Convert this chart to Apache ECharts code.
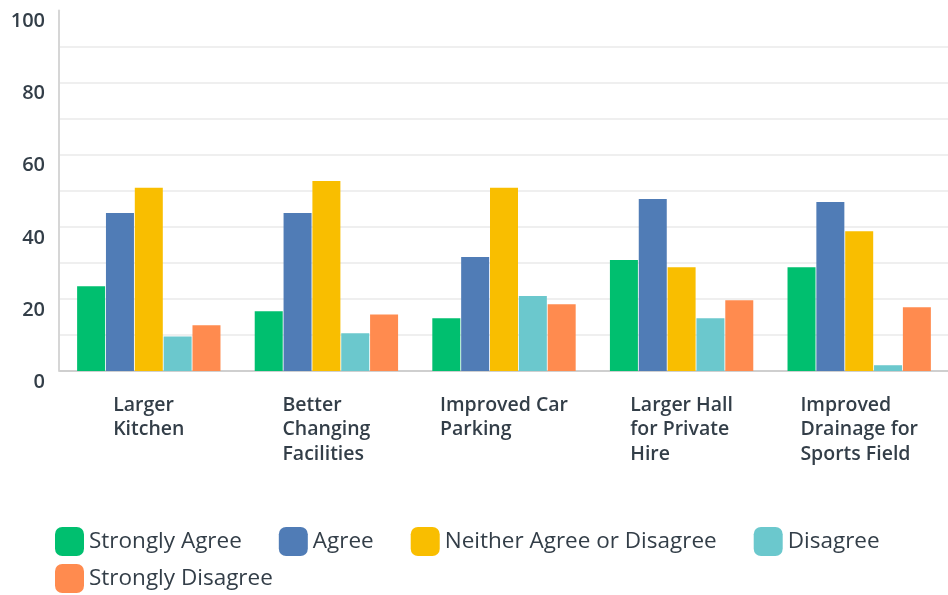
<!DOCTYPE html>
<html>
<head>
<meta charset="utf-8">
<script src="https://cdn.jsdelivr.net/npm/echarts@6/dist/echarts.min.js"></script>
<style>html,body{margin:0;padding:0;background:#fff}#c{width:948px;height:595px}</style>
</head>
<body>
<div id="c"></div>
<script>
var categories = ['Larger Kitchen', 'Better Changing Facilities', 'Improved Car Parking', 'Larger Hall for Private Hire', 'Improved Drainage for Sports Field'];
var categoryLines = [['Larger', 'Kitchen'], ['Better', 'Changing', 'Facilities'], ['Improved Car', 'Parking'], ['Larger Hall', 'for Private', 'Hire'], ['Improved', 'Drainage for', 'Sports Field']];
var seriesNames = ['Strongly Agree', 'Agree', 'Neither Agree or Disagree', 'Disagree', 'Strongly Disagree'];
var stronglyAgree = [23.5, 16.6, 14.6, 30.8, 28.8];
var agree = [43.8, 43.8, 31.6, 47.7, 46.9];
var neither = [50.8, 52.7, 50.8, 28.8, 38.8];
var disagree = [9.6, 10.5, 20.8, 14.6, 1.6];
var stronglyDisagree = [12.7, 15.7, 18.5, 19.6, 17.7];
var yTicks = [0, 20, 40, 60, 80, 100];

var colors = ['#00bf6f', '#507cb6', '#f9be00', '#6bc8cd', '#ff8b4f'];
var textColor = '#333e48';
var values = [stronglyAgree, agree, neither, disagree, stronglyDisagree];

var chart = echarts.init(document.getElementById('c'));
var legendText = { color: textColor, fontSize: 22.5, fontFamily: 'Open Sans', fontWeight: 500 };
chart.setOption({
  animation: false,
  color: colors,
  grid: { left: 60, width: 894, top: 10.5, bottom: 224, containLabel: false },
  legend: [{
    data: seriesNames.slice(0, 4), left: 55, top: 527, padding: 0, itemWidth: 29, itemHeight: 29, itemGap: 37,
    icon: 'roundRect', textStyle: legendText, selectedMode: false
  }, {
    data: seriesNames.slice(4), left: 55, top: 564, padding: 0, itemWidth: 29, itemHeight: 29, itemGap: 37,
    icon: 'roundRect', textStyle: legendText, selectedMode: false
  }],
  xAxis: {
    type: 'category',
    data: categories,
    axisLine: { lineStyle: { color: '#cfcfcf', width: 2 } },
    axisTick: { show: false },
    axisLabel: {
      margin: 22,
      interval: 0,
      align: 'center',
      formatter: function (v, i) {
        return categoryLines[i].map(function (l) { return '{a|' + l + '}'; }).join('\n');
      },
      rich: {
        a: { align: 'left', color: textColor, fontSize: 19.5, fontWeight: 600, fontFamily: 'Open Sans', lineHeight: 24.5 }
      }
    }
  },
  yAxis: {
    type: 'value', min: 0, max: 100, interval: 10, offset: 1,
    axisLine: { show: true, lineStyle: { color: '#d6d6d6', width: 2 } },
    axisTick: { show: false },
    splitLine: { showMaxLine: false, lineStyle: { color: '#efefef', width: 2 } },
    axisLabel: {
      margin: 14, color: textColor, fontSize: 20, fontWeight: 600, fontFamily: 'Open Sans',
      verticalAlign: 'top', lineHeight: 22,
      formatter: function (v) { return yTicks.indexOf(v) >= 0 ? String(v) : ''; }
    }
  },
  series: seriesNames.map(function (n, k) {
    return { name: n, type: 'bar', data: values[k], barWidth: 28, barGap: '3%', itemStyle: { color: colors[k] } };
  })
});
</script>
</body>
</html>
